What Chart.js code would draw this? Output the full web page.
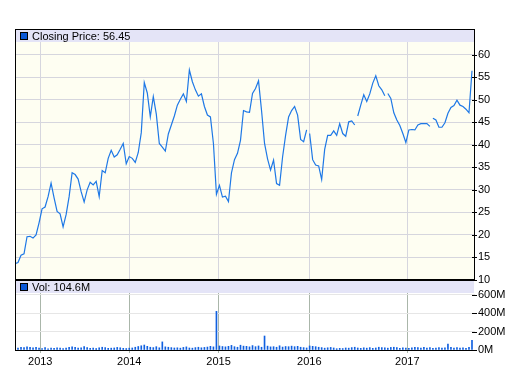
<!DOCTYPE html>
<html><head><meta charset="utf-8">
<script src="https://cdn.jsdelivr.net/npm/chart.js@4/dist/chart.umd.min.js"></script>
<style>
html,body{margin:0;padding:0;background:#fff;}
#wrap{position:relative;width:519px;height:379px;overflow:hidden;background:#fff;}
canvas{position:absolute;left:0;}
#cp{top:0;}
#cv{top:280px;}
</style></head><body>
<div id="wrap"><canvas id="cv" width="519" height="99"></canvas><canvas id="cp" width="519" height="290"></canvas></div>
<script>
// ---- data (sample index along the time axis) ----
const yearLabels = ['2013','2014','2015','2016','2017'];
const yearPos = [8.4, 38.0, 67.7, 97.9, 130.5];
const priceTicks = [10,15,20,25,30,35,40,45,50,55,60];
const volumeTicks = [0,200,400,600];
const priceClose = [
13.6,13.9,15.5,15.8,19.6,19.7,19.3,20.0,22.7,25.8,
26.2,28.5,31.5,28.2,25.2,24.7,21.8,24.5,28.5,33.8,
33.4,32.4,29.6,27.3,30.0,31.7,31.1,31.9,28.5,34.3,
33.8,37.0,38.8,37.3,37.8,39.0,40.3,35.8,37.4,37.0,
36.1,38.3,42.7,53.8,51.5,46.2,50.7,46.8,40.3,39.5,
38.6,42.4,44.4,46.4,48.8,50.1,51.3,49.6,56.6,54.0,
52.2,50.8,51.3,48.5,46.6,46.2,40.3,29.0,31.0,28.4,
28.6,27.4,33.8,36.7,38.1,41.0,47.6,47.3,47.2,51.4,
52.5,54.2,47.6,40.3,36.9,34.4,36.6,31.4,31.0,37.3,
42.1,46.2,47.6,48.5,46.6,41.2,40.7,43.3,42.5,36.7,
35.5,35.3,32.3,39.0,42.1,42.1,43.1,42.1,44.7,42.5,
41.9,45.1,45.3,44.4,46.4,48.8,51.1,49.6,51.3,53.7,
55.3,53.1,52.2,50.9,51.4,50.3,47.1,45.5,44.3,42.5,
40.5,43.3,43.4,43.3,44.4,44.7,44.7,44.7,44.1,45.9,
45.5,43.9,43.9,44.9,47.0,48.3,48.7,49.9,48.8,48.5,
47.9,47.1,56.45];
const volumeM = [
18,22,30,26,34,28,24,30,20,
16,26,14,22,18,24,20,16,22,28,34,30,20,24,36,26,18,22,16,24,30,26,18,20,22,28,24,18,16,20,
22,30,38,46,54,40,30,26,36,24,88,34,30,26,22,24,20,28,34,22,20,26,30,24,28,32,40,34,
420,
44,38,34,40,50,36,30,52,42,40,34,48,36,44,30,152,42,34,36,30,46,32,38,36,42,36,40,30,26,22,
44,40,36,30,26,20,24,28,22,14,18,16,22,20,26,30,22,18,24,20,26,18,22,30,26,24,20,28,30,26,18,24,20,
18,24,30,26,22,28,20,26,18,22,26,20,24,64,28,22,26,20,24,18,30,104.6];
const gapsAfter = [97,113,123,138];
const sampleCount = 153;

const FONT = '"Liberation Sans", Arial, sans-serif';
const LINE_BLUE = '#1e78e6';
const BAR_BLUE = '#1060e0';
const BAND = '#e4e4f7';

function fixPad(s){ s.paddingTop=0; s.paddingBottom=0; s.paddingLeft=0; s.paddingRight=0; }

function drawBand(ctx, a, top, text){
  ctx.save();
  ctx.fillStyle = BAND;
  ctx.fillRect(a.left+1, top, a.right-a.left-2, 12);
  ctx.fillStyle = '#0a58d8';
  ctx.fillRect(21, top+3, 6, 6);
  ctx.strokeStyle = '#000'; ctx.lineWidth = 1;
  ctx.strokeRect(20.5, top+2.5, 7, 7);
  ctx.fillStyle = '#000';
  ctx.font = '11px ' + FONT;
  ctx.textBaseline = 'alphabetic';
  ctx.fillText(text, 32, top+10);
  ctx.restore();
}
function drawYTicks(ctx, chart){
  const s = chart.scales.y, a = chart.chartArea;
  ctx.save(); ctx.strokeStyle = '#000'; ctx.lineWidth = 1;
  s.ticks.forEach(t => {
    const y = Math.round(s.getPixelForValue(t.value)) + 0.5;
    ctx.beginPath(); ctx.moveTo(a.right-3, y); ctx.lineTo(a.right+2, y); ctx.stroke();
  });
  ctx.restore();
}

const pricePlugin = {
  id: 'pricePanel',
  beforeDraw(chart){
    const {ctx, chartArea:a} = chart;
    ctx.save(); ctx.fillStyle = '#fefef2';
    ctx.fillRect(a.left, a.top, a.right-a.left, a.bottom-a.top); ctx.restore();
  },
  beforeDatasetsDraw(chart){
    const {ctx, chartArea:a} = chart;
    drawBand(ctx, a, a.top+1, 'Closing Price: ' + priceClose[priceClose.length-1].toFixed(2));
  },
  afterDraw(chart){
    const {ctx, chartArea:a} = chart;
    ctx.save();
    ctx.fillStyle = '#000';
    ctx.fillRect(a.left, a.top, a.right-a.left, 1);
    ctx.fillRect(a.left, a.top, 1, a.bottom-a.top+1);
    ctx.fillRect(a.right-1, a.top, 1, a.bottom-a.top+1);
    ctx.fillRect(a.left, a.bottom-1, a.right-a.left, 2);
    ctx.restore();
    drawYTicks(ctx, chart);
  }
};

const volPlugin = {
  id: 'volPanel',
  beforeDatasetsDraw(chart){
    const {ctx, chartArea:a} = chart;
    drawBand(ctx, a, a.top, 'Vol: ' + volumeM[volumeM.length-1].toFixed(1) + 'M');
  },
  afterDraw(chart){
    const {ctx, chartArea:a} = chart;
    ctx.save();
    ctx.fillStyle = '#000';
    ctx.fillRect(a.left, 0, 1, a.bottom+1);
    ctx.fillRect(a.left, a.bottom, a.right-a.left, 1);
    ctx.restore();
    drawYTicks(ctx, chart);
  }
};

new Chart(document.getElementById('cp'), {
  type: 'line',
  data: { datasets: [{
    data: priceClose.map((v,i)=>({x:i, y:v})),
    borderColor: LINE_BLUE, borderWidth: 1.2, pointRadius: 0, tension: 0,
    segment: { borderColor: c => gapsAfter.includes(c.p0DataIndex) ? 'rgba(0,0,0,0)' : undefined }
  }]},
  options: {
    responsive: false, animation: false, devicePixelRatio: 1,
    layout: { padding: { left: 15, top: 29, right: 0, bottom: 10 } },
    plugins: { legend: {display:false}, tooltip: {enabled:false} },
    scales: {
      x: { type:'linear', min:0, max:sampleCount, offset:false,
        afterBuildTicks: s => { s.ticks = yearPos.map(v=>({value:v})); },
        afterFit: s => { s.height = 0; fixPad(s); },
        ticks: { display:false },
        grid: { color:'#d6d6de', drawTicks:false, offset:false },
        border: { display:false } },
      y: { position:'right', min:10, max:65.7,
        afterBuildTicks: s => { s.ticks = priceTicks.map(v=>({value:v})); },
        afterFit: s => { s.width = 44; fixPad(s); },
        ticks: { color:'#000', padding:3, font:{ family:FONT, size:11 } },
        grid: { color:'#d6d6de', drawTicks:false },
        border: { display:false } }
    }
  },
  plugins: [pricePlugin]
});

new Chart(document.getElementById('cv'), {
  type: 'bar',
  data: { datasets: [{
    data: volumeM.map((v,i)=>({x:i, y:v})),
    backgroundColor: BAR_BLUE, barThickness: 1, borderWidth: 0
  }]},
  options: {
    responsive: false, animation: false, devicePixelRatio: 1,
    layout: { padding: { left: 15, top: 1, right: 0, bottom: 0 } },
    plugins: { legend: {display:false}, tooltip: {enabled:false} },
    scales: {
      x: { type:'linear', min:0, max:sampleCount, offset:false,
        afterBuildTicks: s => { s.ticks = yearPos.map(v=>({value:v})); },
        afterFit: s => { s.height = 29; fixPad(s); },
        ticks: { color:'#000', padding:2, maxRotation:0, autoSkip:false,
          font:{ family:FONT, size:11 },
          callback: (v, i) => yearLabels[i] },
        grid: { color:'#aab6aa', tickColor:'#aab6aa', tickLength:3, offset:false },
        border: { display:false } },
      y: { position:'right', min:0, max:750,
        afterBuildTicks: s => { s.ticks = volumeTicks.map(v=>({value:v})); },
        afterFit: s => { s.width = 44; fixPad(s); },
        ticks: { color:'#000', padding:3, font:{ family:FONT, size:11 }, callback: v => v + 'M' },
        grid: { color:'#e6e6e6', drawTicks:false },
        border: { display:false } }
    }
  },
  plugins: [volPlugin]
});
</script>
</body></html>
